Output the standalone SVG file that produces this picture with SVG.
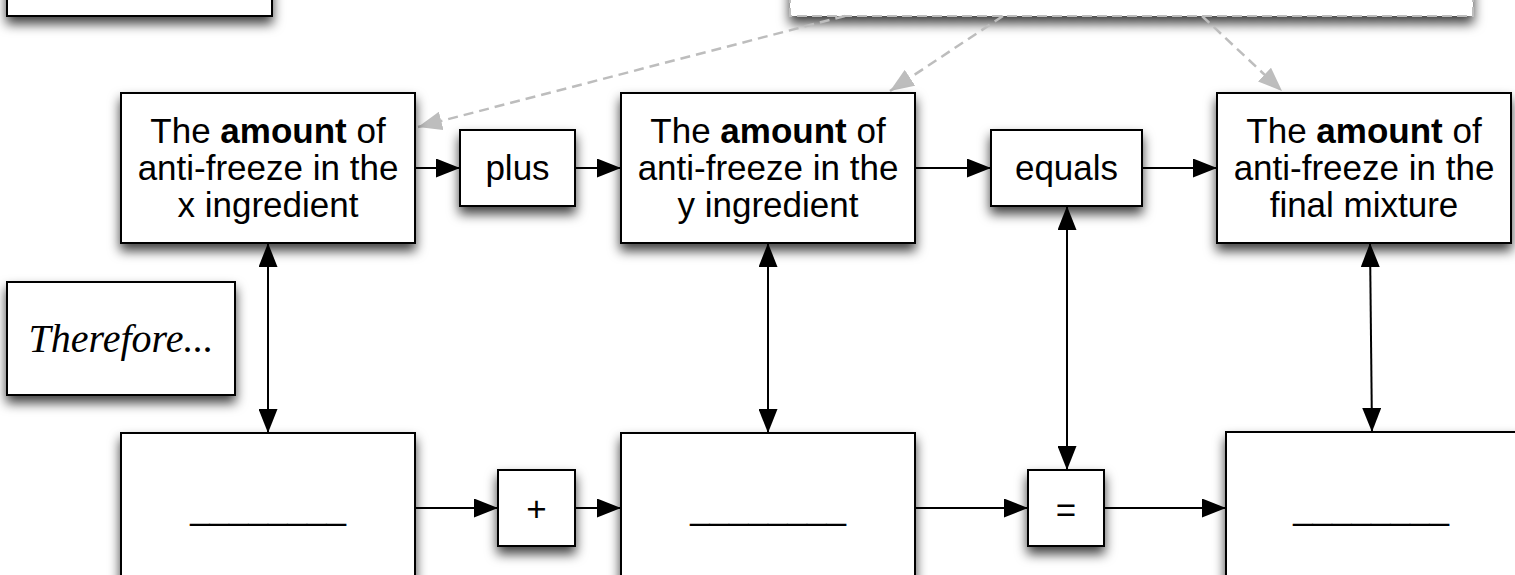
<svg xmlns="http://www.w3.org/2000/svg" width="1515" height="575" viewBox="0 0 1515 575">
<defs>
<filter id="sh" x="-20%" y="-20%" width="140%" height="180%">
<feDropShadow dx="0" dy="7" stdDeviation="6" flood-color="#000" flood-opacity="0.75"/>
</filter>
<marker id="ah" viewBox="0 0 24 19" refX="24" refY="9.5" markerWidth="24" markerHeight="19" markerUnits="userSpaceOnUse" orient="auto-start-reverse">
<path d="M0,0 L24,9.5 L0,19 z" fill="#000"/>
</marker>
<marker id="ahg" viewBox="0 0 24 19" refX="24" refY="9.5" markerWidth="24" markerHeight="19" markerUnits="userSpaceOnUse" orient="auto">
<path d="M0,0 L24,9.5 L0,19 z" fill="#bdbdbd"/>
</marker>
</defs>
<style>
.box{fill:#fff;stroke:#000;stroke-width:2;filter:url(#sh)}
.dbox{fill:#fff;stroke:#bdbdbd;stroke-width:2;stroke-dasharray:10,5;filter:url(#sh)}
.t{font-family:"Liberation Sans",Arial,sans-serif;font-size:35px;fill:#000;text-anchor:middle}
.b{font-weight:bold}
.c{stroke:#000;stroke-width:2;fill:none}
.c1{marker-end:url(#ah)}
.c2{marker-start:url(#ah);marker-end:url(#ah)}
.d{stroke:#bdbdbd;stroke-width:2.5;stroke-dasharray:10,6;fill:none;marker-end:url(#ahg)}
.s{font-family:"Liberation Serif","Times New Roman",serif;font-style:italic;font-size:40px;fill:#000;text-anchor:middle}
</style>
<g id="topleft"><rect class="box" x="7" y="-60" width="265" height="76"/></g>
<g id="topnote"><rect class="dbox" x="790" y="-60" width="683" height="76"/></g>
<g id="connectors">
<path class="d" d="M845,16 L418,127"/>
<path class="d" d="M1003,16 L890,91"/>
<path class="d" d="M1202,16 L1282,91"/>
<path class="c c1" d="M415,168 L460,168"/>
<path class="c c1" d="M575,168 L621,168"/>
<path class="c c1" d="M915,168 L991,168"/>
<path class="c c1" d="M1142,168 L1217,168"/>
<path class="c c1" d="M415,508 L498,508"/>
<path class="c c1" d="M575,508 L621,508"/>
<path class="c c1" d="M915,508 L1028,508"/>
<path class="c c1" d="M1104,508 L1226,508"/>
<path class="c c2" d="M268,243 L268,433"/>
<path class="c c2" d="M768,243 L768,433"/>
<path class="c c2" d="M1067,206 L1067,470"/>
<path class="c c2" d="M1370,243 L1372,432"/>
</g>
<g id="box1"><rect class="box" x="121" y="93" width="294" height="150"/>
<text class="t" x="268" y="143">The <tspan class="b">amount</tspan> of</text>
<text class="t" x="268" y="180">anti-freeze in the</text>
<text class="t" x="268" y="217">x ingredient</text></g>
<g id="plus"><rect class="box" x="460" y="130" width="115" height="76"/>
<text class="t" x="517.5" y="180">plus</text></g>
<g id="box2"><rect class="box" x="621" y="93" width="294" height="150"/>
<text class="t" x="768" y="143">The <tspan class="b">amount</tspan> of</text>
<text class="t" x="768" y="180">anti-freeze in the</text>
<text class="t" x="768" y="217">y ingredient</text></g>
<g id="equals"><rect class="box" x="991" y="130" width="151" height="76"/>
<text class="t" x="1066.5" y="180">equals</text></g>
<g id="box3"><rect class="box" x="1217" y="93" width="294" height="150"/>
<text class="t" x="1364" y="143">The <tspan class="b">amount</tspan> of</text>
<text class="t" x="1364" y="180">anti-freeze in the</text>
<text class="t" x="1364" y="217">final mixture</text></g>
<g id="therefore"><rect class="box" x="7" y="282" width="228" height="113"/>
<text class="s" x="121" y="352">Therefore...</text></g>
<g id="box4"><rect class="box" x="121" y="433" width="294" height="150"/>
<text class="t" x="268" y="519">________</text></g>
<g id="plussign"><rect class="box" x="498" y="470" width="77" height="76"/>
<text class="t" x="536.5" y="521">+</text></g>
<g id="box5"><rect class="box" x="621" y="433" width="294" height="150"/>
<text class="t" x="768" y="519">________</text></g>
<g id="eqsign"><rect class="box" x="1028" y="470" width="76" height="76"/>
<text class="t" x="1066" y="522">=</text></g>
<g id="box6"><rect class="box" x="1226" y="432" width="294" height="150"/>
<text class="t" x="1371" y="519">________</text></g>
</svg>
